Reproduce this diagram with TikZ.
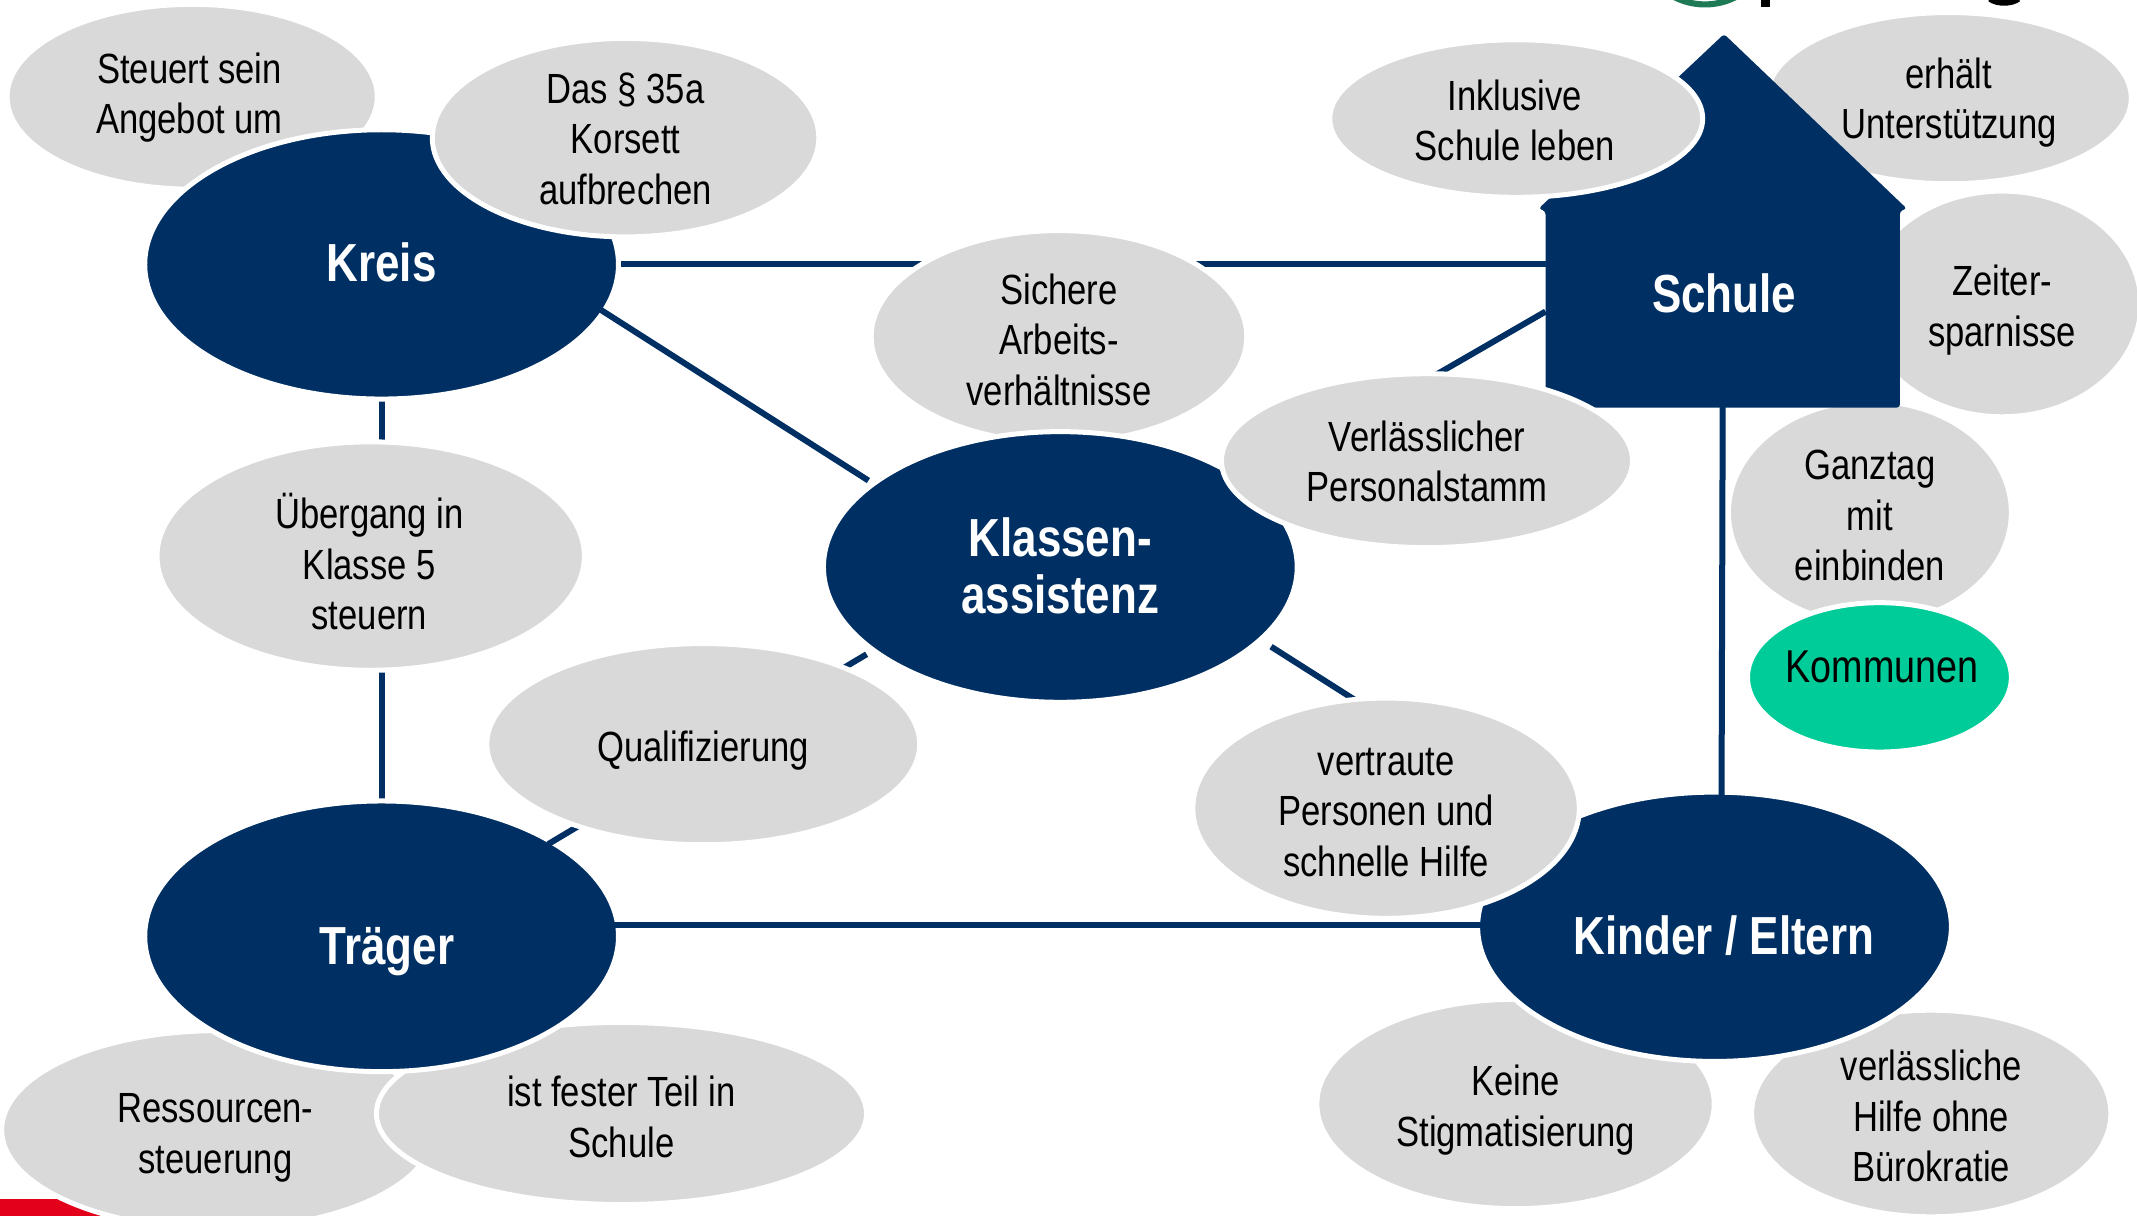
\documentclass[tikz,border=0pt]{standalone}
\usepackage{fontspec}
\setmainfont[FakeStretch=0.82]{Liberation Sans}
\usetikzlibrary{shapes.geometric,calc}
\pgfdeclarelayer{bg}
\pgfsetlayers{bg,main}
\definecolor{navy}{HTML}{003063}
\definecolor{greyell}{HTML}{D9D9D9}
\definecolor{greenell}{HTML}{00CC99}
\definecolor{redbar}{HTML}{E2001A}
\definecolor{logogreen}{HTML}{1E7A55}
\newbox\mvbox
\newcommand\mv[3]{\pgfmathsetlengthmacro\mvx{2*(#1)*0.6815pt}\pgfmathsetlengthmacro\mvy{(#2)*0.6815pt}%
  \setbox\mvbox\hbox{\begin{tabular}{@{}c@{}}#3\end{tabular}}%
  \makebox[0pt]{\kern\mvx\raisebox{\dimexpr(\dp\mvbox-\ht\mvbox)/2-\mvy-0.36em\relax}[0pt][0pt]{\box\mvbox}}}
\tikzset{
  sz/.style 2 args={minimum width=(#1+1.8)*1.363pt, minimum height=(#2+1.8)*1.363pt},
  ell/.style={ellipse,inner sep=0pt,outer sep=0pt,draw=white,line width=2.5pt},
  greybub/.style={ell,fill=greyell,text=black,font=\fontsize{21.1}{25.2}\selectfont},
  mainbub/.style={ell,fill=navy,text=white,font=\fontsize{26.8}{28.6}\bfseries\selectfont},
  link/.style={draw=navy,line width=3pt},
  touching/.style={link,shorten <=-2pt,shorten >=-2pt},
}
\begin{document}
\begin{tikzpicture}[x=0.6815pt,y=-0.6815pt]
\useasboundingbox (0,0) rectangle (1568,891.5);
% grey bubbles under the main shapes
\node[greybub,sz={134}{66}] (steuert) at (141,71) {\mv{-2}{-2.5}{Steuert sein\\Angebot um}};
\node[greybub,sz={157}{71}] (ressourcen) at (160,829) {\mv{-2}{2.5}{Ressourcen-\\steuerung}};
\node[greybub,sz={178}{65}] (fester) at (456,817) {\mv{0}{2.5}{ist fester Teil in\\Schule}};
\node[greybub,sz={136}{76}] (sichere) at (777,247) {\mv{0}{2.5}{Sichere\\Arbeits-\\verhältnisse}};
\node[greybub,sz={132}{61}] (erhaelt) at (1430,72) {\mv{0}{0.5}{erhält\\Unterstützung}};
\node[greybub,sz={100}{81}] (zeiter) at (1469,223) {\mv{0}{1.5}{Zeiter-\\sparnisse}};
\node[greybub,sz={102}{80}] (ganztag) at (1372,376) {\mv{0}{2}{Ganztag\\mit\\einbinden}};
\node[greybub,sz={144}{75}] (keine) at (1112,810) {\mv{0}{1.5}{Keine\\Stigmatisierung}};
\node[greybub,sz={130}{74}] (verl) at (1417,817) {\mv{0}{2}{verlässliche\\Hilfe ohne\\Bürokratie}};
% house
\fill[navy,rounded corners=1.5pt] (1265,25) -- (1399,153) -- (1394,155) -- (1394,299) -- (1134,299) -- (1134,155) -- (1129,153) -- cycle;
\node[text=white,font=\fontsize{26.8}{28.6}\bfseries\selectfont,minimum width=260*0.6815pt,minimum height=166*0.6815pt,inner sep=0pt,outer sep=0pt] (schule) at (1264,216) {\mv{1}{0}{Schule}};
\coordinate (schulekl) at (1134,228.6);
\coordinate (tklevel) at (0,679);
% main ellipses
\node[mainbub,sz={172}{97}] (kreis) at (280,194) {\mv{0}{-1}{Kreis}};
\node[mainbub,sz={172}{97.5}] (klassen) at (778,416) {\mv{0}{0}{Klassen-\\assistenz}};
\node[mainbub,sz={172}{97.5}] (traeger) at (280,687) {\mv{4}{7}{Träger}};
\node[mainbub,sz={172}{97}] (kinder) at (1258,680) {\mv{7}{7}{Kinder / Eltern}};
% connectors
\begin{pgfonlayer}{bg}
\fill[redbar] (0,880) rectangle (110,892);
\fill[logogreen,even odd rule] (1251,-46) circle (51.5) (1251,-46) circle (47);
\fill[black] (1292,0) rectangle (1299,5);
\draw[black,line width=3pt] (1460,-1) .. controls (1465,3) and (1476,3) .. (1481,-1);
\draw[link] (kreis.east) -- (kreis.east -| schule.west);
\draw[link] (kreis.south) -- (traeger.north);
\end{pgfonlayer}
\draw[link,shorten <=-2pt,shorten >=3pt] (kreis.-12.3) -- (klassen.156);
\draw[link] (klassen.24.4) -- (schulekl);
\draw[link,shorten <=4pt,shorten >=-2pt] (klassen.204.8) -- (traeger.29.5);
\draw[link,shorten <=6.5pt,shorten >=-2pt] (klassen.-20.5) -- (kinder.148.6);
\draw[touching] (schule.south) -- (kinder.87.6);
\draw[touching] (traeger.east |- tklevel) -- (kinder.west |- tklevel);
% grey bubbles above the connectors
\node[greybub,sz={155}{82}] (uebergang) at (272,408) {\mv{-1}{6}{Übergang in\\Klasse 5\\steuern}};
\node[greybub,sz={157}{72}] (quali) at (516,546) {\mv{0}{2}{Qualifizierung}};
\node[greybub,sz={140}{71}] (korsett) at (459,101) {\mv{0}{1}{Das § 35a\\Korsett\\aufbrechen}};
\node[greybub,sz={135}{56}] (inklusiv) at (1112.5,87) {\mv{-1}{1.5}{Inklusive\\Schule leben}};
\node[greybub,sz={149}{62}] (personal) at (1047,338) {\mv{0}{0.5}{Verlässlicher\\Personalstamm}};
\node[greybub,sz={140}{79}] (vertraut) at (1017,593) {\mv{0}{2}{vertraute\\Personen und\\schnelle Hilfe}};
\node[ell,fill=greenell,text=black,font=\fontsize{23}{27}\selectfont,sz={95}{53}] (kommunen) at (1379,497) {\mv{2}{-7}{Kommunen}};
\end{tikzpicture}
\end{document}
